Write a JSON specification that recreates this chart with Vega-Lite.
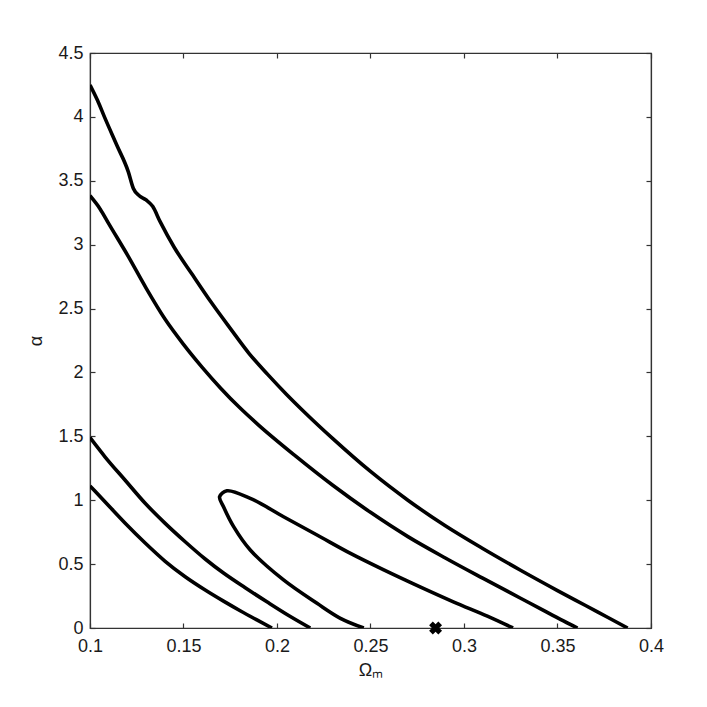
{
  "$schema": "https://vega.github.io/schema/vega-lite/v6.json",
  "width": 561,
  "height": 575,
  "autosize": {"type": "none"},
  "padding": {"left": 90, "top": 53, "right": 56, "bottom": 79},
  "background": "white",
  "config": {
    "view": {"stroke": "#333333", "strokeWidth": 1.2},
    "font": "Liberation Sans",
    "axis": {
      "labelFont": "Liberation Sans",
      "titleFont": "Liberation Sans",
      "labelFontSize": 18,
      "titleFontSize": 18,
      "labelColor": "#1a1a1a",
      "titleColor": "#1a1a1a",
      "domainColor": "#333333",
      "tickColor": "#333333",
      "domainWidth": 1.2,
      "tickWidth": 1.2,
      "grid": false,
      "tickSize": -5,
      "titleFontWeight": "normal"
    }
  },
  "datasets": {
    "curves": [
      {"c": "A", "x": 0.1, "y": 4.25},
      {"c": "A", "x": 0.104, "y": 4.13},
      {"c": "A", "x": 0.108, "y": 3.99},
      {"c": "A", "x": 0.1143, "y": 3.78},
      {"c": "A", "x": 0.1205, "y": 3.57},
      {"c": "A", "x": 0.1232, "y": 3.44},
      {"c": "A", "x": 0.1262, "y": 3.385},
      {"c": "A", "x": 0.13, "y": 3.35},
      {"c": "A", "x": 0.1335, "y": 3.3},
      {"c": "A", "x": 0.1375, "y": 3.18},
      {"c": "A", "x": 0.145, "y": 2.98},
      {"c": "A", "x": 0.155, "y": 2.76},
      {"c": "A", "x": 0.165, "y": 2.545},
      {"c": "A", "x": 0.175, "y": 2.345},
      {"c": "A", "x": 0.185, "y": 2.15},
      {"c": "A", "x": 0.195, "y": 1.985},
      {"c": "A", "x": 0.205, "y": 1.83},
      {"c": "A", "x": 0.215, "y": 1.685},
      {"c": "A", "x": 0.23, "y": 1.48},
      {"c": "A", "x": 0.25, "y": 1.225},
      {"c": "A", "x": 0.27, "y": 1.0},
      {"c": "A", "x": 0.29, "y": 0.8},
      {"c": "A", "x": 0.31, "y": 0.622},
      {"c": "A", "x": 0.33, "y": 0.454},
      {"c": "A", "x": 0.35, "y": 0.293},
      {"c": "A", "x": 0.365, "y": 0.176},
      {"c": "A", "x": 0.377, "y": 0.082},
      {"c": "A", "x": 0.3875, "y": 0.0},
      {"c": "B", "x": 0.1, "y": 3.383},
      {"c": "B", "x": 0.1054, "y": 3.28},
      {"c": "B", "x": 0.11, "y": 3.165},
      {"c": "B", "x": 0.12, "y": 2.92},
      {"c": "B", "x": 0.13, "y": 2.66},
      {"c": "B", "x": 0.14, "y": 2.42},
      {"c": "B", "x": 0.15, "y": 2.22},
      {"c": "B", "x": 0.16, "y": 2.04},
      {"c": "B", "x": 0.17, "y": 1.875},
      {"c": "B", "x": 0.18, "y": 1.725},
      {"c": "B", "x": 0.19, "y": 1.59},
      {"c": "B", "x": 0.21, "y": 1.345},
      {"c": "B", "x": 0.23, "y": 1.115},
      {"c": "B", "x": 0.25, "y": 0.905},
      {"c": "B", "x": 0.27, "y": 0.715},
      {"c": "B", "x": 0.29, "y": 0.548},
      {"c": "B", "x": 0.31, "y": 0.39},
      {"c": "B", "x": 0.33, "y": 0.235},
      {"c": "B", "x": 0.341, "y": 0.15},
      {"c": "B", "x": 0.3518, "y": 0.065},
      {"c": "B", "x": 0.3607, "y": 0.0},
      {"c": "D", "x": 0.1, "y": 1.49},
      {"c": "D", "x": 0.108, "y": 1.34},
      {"c": "D", "x": 0.1187, "y": 1.158},
      {"c": "D", "x": 0.1295, "y": 0.976},
      {"c": "D", "x": 0.1402, "y": 0.819},
      {"c": "D", "x": 0.1509, "y": 0.675},
      {"c": "D", "x": 0.1616, "y": 0.54},
      {"c": "D", "x": 0.1714, "y": 0.43},
      {"c": "D", "x": 0.183, "y": 0.315},
      {"c": "D", "x": 0.1946, "y": 0.205},
      {"c": "D", "x": 0.206, "y": 0.1},
      {"c": "D", "x": 0.2178, "y": 0.0},
      {"c": "E", "x": 0.1, "y": 1.112},
      {"c": "E", "x": 0.108, "y": 0.988},
      {"c": "E", "x": 0.1187, "y": 0.822},
      {"c": "E", "x": 0.1295, "y": 0.665},
      {"c": "E", "x": 0.1402, "y": 0.522},
      {"c": "E", "x": 0.1509, "y": 0.401},
      {"c": "E", "x": 0.1616, "y": 0.297},
      {"c": "E", "x": 0.1714, "y": 0.21},
      {"c": "E", "x": 0.1803, "y": 0.135},
      {"c": "E", "x": 0.189, "y": 0.065},
      {"c": "E", "x": 0.1973, "y": 0.0}
    ],
    "loop": [
      {"i": 0, "x": 0.2464, "y": 0.0},
      {"i": 1, "x": 0.2339, "y": 0.076},
      {"i": 2, "x": 0.2214, "y": 0.193},
      {"i": 3, "x": 0.2035, "y": 0.376},
      {"i": 4, "x": 0.1857, "y": 0.61},
      {"i": 5, "x": 0.1768, "y": 0.793},
      {"i": 6, "x": 0.1714, "y": 0.949},
      {"i": 7, "x": 0.1693, "y": 1.027},
      {"i": 8, "x": 0.1732, "y": 1.074},
      {"i": 9, "x": 0.1857, "y": 1.015},
      {"i": 10, "x": 0.2035, "y": 0.871},
      {"i": 11, "x": 0.2214, "y": 0.728},
      {"i": 12, "x": 0.2393, "y": 0.584},
      {"i": 13, "x": 0.2571, "y": 0.455},
      {"i": 14, "x": 0.2768, "y": 0.32},
      {"i": 15, "x": 0.2946, "y": 0.203},
      {"i": 16, "x": 0.3125, "y": 0.093},
      {"i": 17, "x": 0.3262, "y": 0.0}
    ],
    "marker": [
      {"x": 0.2848, "y": 0.0}
    ]
  },
  "layer": [
    {
      "data": {"name": "curves"},
      "mark": {"type": "line", "color": "black", "strokeWidth": 3.6, "interpolate": "monotone", "strokeJoin": "round", "clip": true},
      "encoding": {
        "x": {
          "field": "x", "type": "quantitative",
          "scale": {"domain": [0.1, 0.4], "nice": false, "zero": false},
          "axis": {"orient": "bottom", "values": [0.1, 0.15, 0.2, 0.25, 0.3, 0.35, 0.4], "format": ".2~f", "title": "Ωₘ", "labelPadding": 14, "titlePadding": 6, "labelFlush": false}
        },
        "y": {
          "field": "y", "type": "quantitative",
          "scale": {"domain": [0, 4.5], "nice": false, "zero": false},
          "axis": {"orient": "left", "values": [0, 0.5, 1, 1.5, 2, 2.5, 3, 3.5, 4, 4.5], "format": "~g", "title": "α", "labelPadding": 12, "titlePadding": 12, "labelFlush": false}
        },
        "detail": {"field": "c"}
      }
    },
    {
      "data": {"name": "loop"},
      "mark": {"type": "line", "color": "black", "strokeWidth": 3.6, "interpolate": "catmull-rom", "strokeJoin": "round", "clip": true},
      "encoding": {
        "x": {"field": "x", "type": "quantitative", "axis": null},
        "y": {"field": "y", "type": "quantitative", "axis": null},
        "order": {"field": "i", "type": "quantitative"}
      }
    },
    {
      "data": {"name": "marker"},
      "mark": {"type": "point", "shape": "cross", "angle": 45, "filled": true, "color": "black", "size": 170, "opacity": 1},
      "encoding": {
        "x": {
          "field": "x", "type": "quantitative",
          "axis": {"orient": "top", "values": [0.1, 0.15, 0.2, 0.25, 0.3, 0.35, 0.4], "labels": false, "title": null}
        },
        "y": {
          "field": "y", "type": "quantitative",
          "axis": {"orient": "right", "values": [0, 0.5, 1, 1.5, 2, 2.5, 3, 3.5, 4, 4.5], "labels": false, "title": null}
        }
      }
    }
  ],
  "resolve": {"axis": {"x": "independent", "y": "independent"}}
}
